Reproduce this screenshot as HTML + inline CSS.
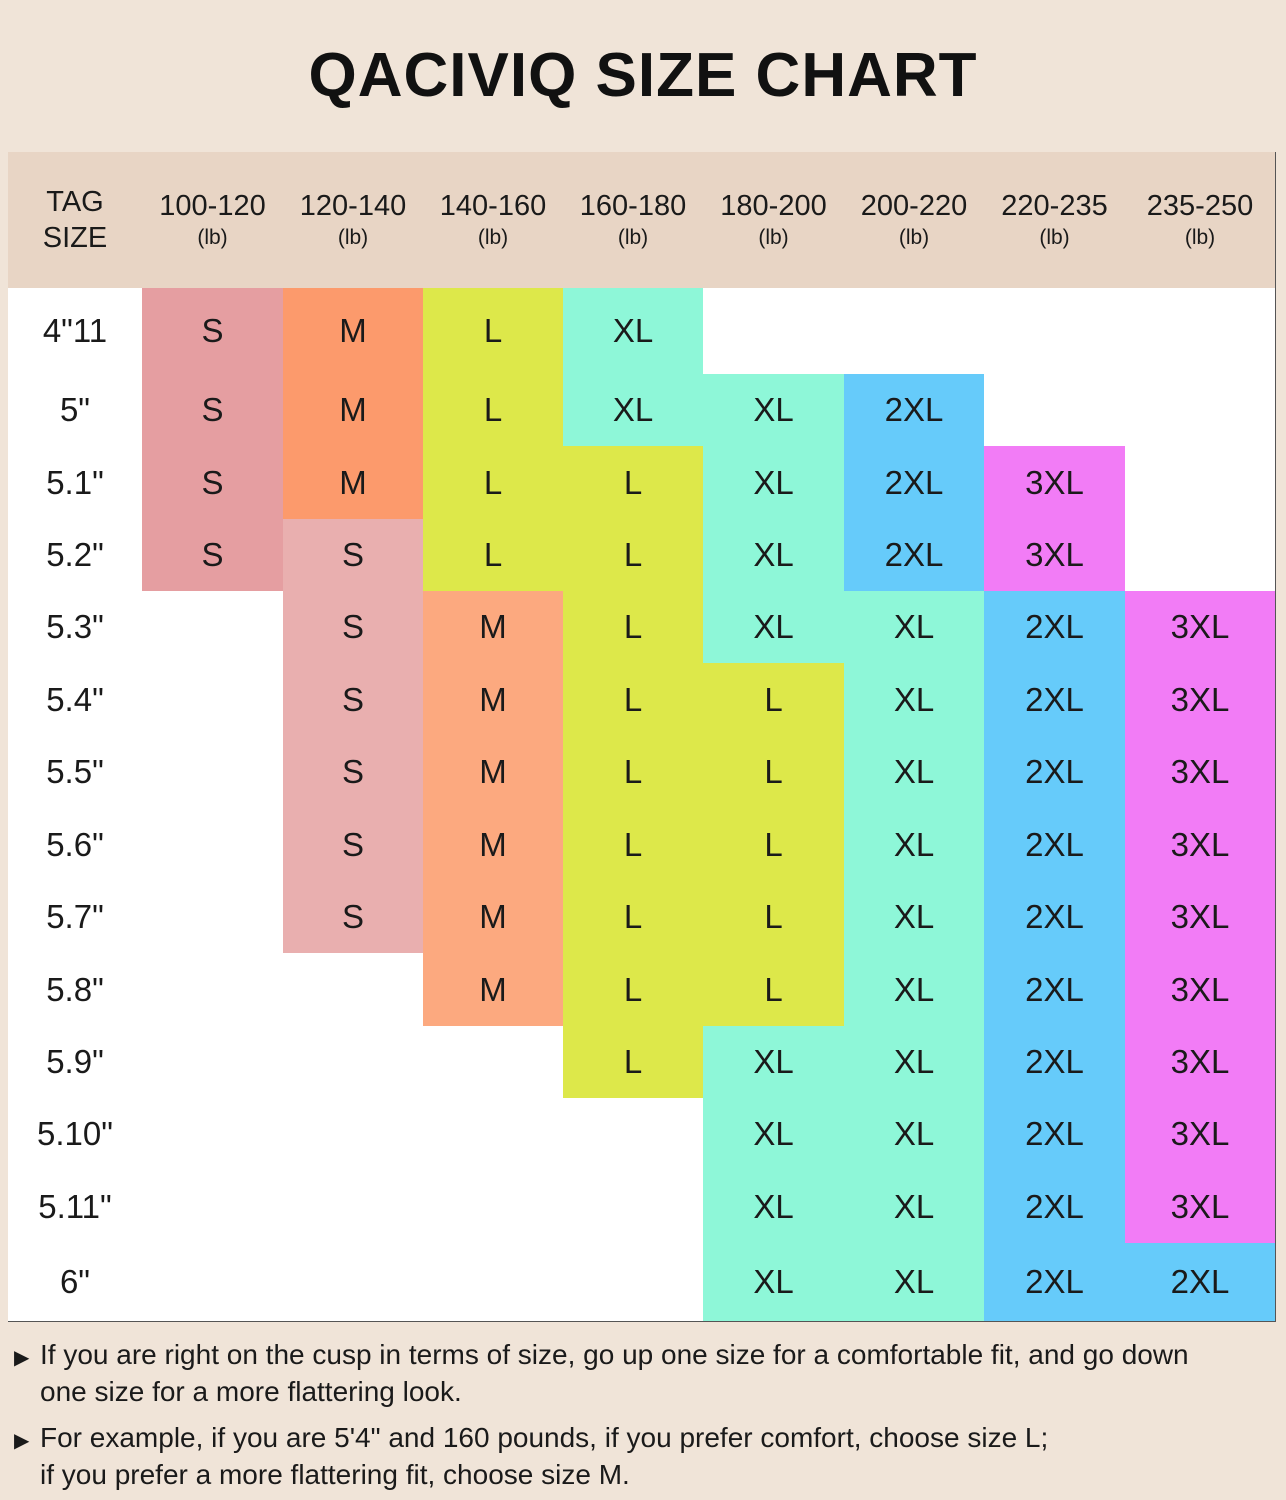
<!DOCTYPE html>
<html><head><meta charset="utf-8"><style>
body{margin:0;width:1286px;height:1500px;background:#f0e4d8;font-family:"Liberation Sans",sans-serif;position:relative;overflow:hidden;color:#1a1a1a}
#title{position:absolute;left:0;width:1286px;top:40px;text-align:center;font-size:62px;font-weight:bold;letter-spacing:1px;color:#111}
.c{position:absolute;box-sizing:border-box;display:flex;align-items:center;justify-content:center;text-align:center;border-right:1px solid #555;border-bottom:1px solid #555}
.h{background:#e8d5c5;flex-direction:column;font-size:29px;line-height:36px}
.h small{font-size:21px;line-height:28px}
.d{font-size:33px}
.note{position:absolute;left:14px;font-size:28px;line-height:33px;width:1270px}
.note span.a{display:inline-block;width:26px;font-size:20px}
</style></head><body>
<div id="title">QACIVIQ SIZE CHART</div>
<div id="tbl" style="position:absolute;left:8px;top:152px;width:1267px;height:1169px;border-left:1px solid #555;border-top:1px solid #555;background:#fff"></div>
<div class="note" style="top:1338px"><span class="a">&#9654;</span>If you are right on the cusp in terms of size, go up one size for a comfortable fit, and go down<br><span class="a"></span>one size for a more flattering look.</div>
<div class="note" style="top:1421px"><span class="a">&#9654;</span>For example, if you are 5'4" and 160 pounds, if you prefer comfort, choose size L;<br><span class="a"></span>if you prefer a more flattering fit, choose size M.</div>
<script>
const weights=["100-120","120-140","140-160","160-180","180-200","200-220","220-235","235-250"];
const heights=['4"11','5"','5.1"','5.2"','5.3"','5.4"','5.5"','5.6"','5.7"','5.8"','5.9"','5.10"','5.11"','6"'];
const sizes=[
["S","M","L","XL","","","",""],
["S","M","L","XL","XL","2XL","",""],
["S","M","L","L","XL","2XL","3XL",""],
["S","s","L","L","XL","2XL","3XL",""],
["","s","m","L","XL","XL","2XL","3XL"],
["","s","m","L","L","XL","2XL","3XL"],
["","s","m","L","L","XL","2XL","3XL"],
["","s","m","L","L","XL","2XL","3XL"],
["","s","m","L","L","XL","2XL","3XL"],
["","","m","L","L","XL","2XL","3XL"],
["","","","L","XL","XL","2XL","3XL"],
["","","","","XL","XL","2XL","3XL"],
["","","","","XL","XL","2XL","3XL"],
["","","","","XL","XL","2XL","2XL"]];
const colors={S:"#e59ea1",s:"#e9afaf",M:"#fc9a6c",m:"#fca97f",L:"#dde84a",XL:"#8ef7d8",'2XL':"#66cbfa",'3XL':"#f27cf6"};
const colX=[8,142,283,423,563,703,844,984,1125,1275];
const rowY=[152,288,374,446,519,591,663,736,808,881,953,1026,1098,1170,1243,1321];
function cell(x0,x1,y0,y1,cls,html,bg){
  const d=document.createElement('div');
  d.className='c '+cls;
  d.style.left=x0+'px';d.style.top=y0+'px';d.style.width=(x1-x0+1)+'px';d.style.height=(y1-y0+1)+'px';
  if(bg)d.style.background=bg;
  d.innerHTML=html;document.body.appendChild(d);return d;
}
let h=cell(colX[0],colX[1],rowY[0],rowY[1],'h','TAG<br>SIZE');


weights.forEach((w,i)=>{
  const e=cell(colX[i+1],colX[i+2],rowY[0],rowY[1],'h',w+'<small>(lb)</small>');
  
  
});
heights.forEach((ht,r)=>{
  const e=cell(colX[0],colX[1],rowY[r+1],rowY[r+2],'d',ht,'#fff');
  
  
  sizes[r].forEach((s,c)=>{
    const label=s==='s'?'S':s==='m'?'M':s;
    const e2=cell(colX[c+1],colX[c+2],rowY[r+1],rowY[r+2],'d',label,s?colors[s]:'#fff');
    
    
  });
});
</script>
</body></html>
